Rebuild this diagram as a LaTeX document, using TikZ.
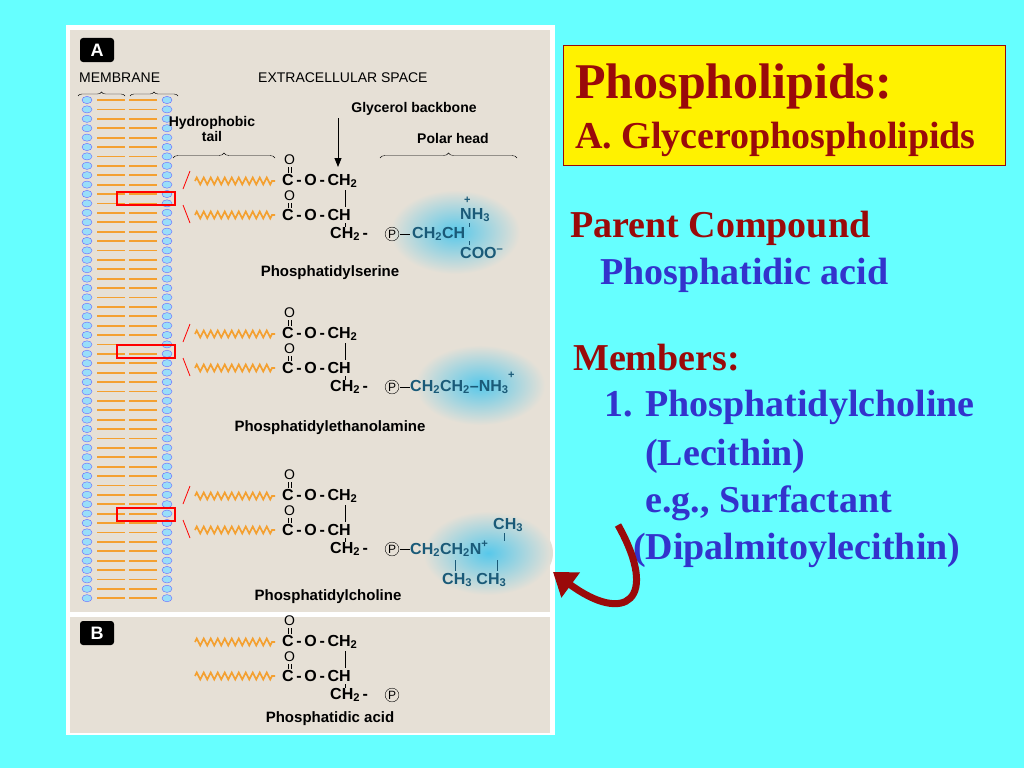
\documentclass[tikz,border=0pt]{standalone}
\usepackage{fontspec}
\setmainfont{Liberation Serif}
\setsansfont{Liberation Sans}
\usetikzlibrary{arrows.meta,decorations.pathmorphing,decorations.pathreplacing}
\definecolor{bgcyan}{HTML}{66FFFF}
\definecolor{paper}{HTML}{E6E0D6}
\definecolor{tailorange}{HTML}{F4A030}
\definecolor{headblue}{HTML}{1A5A78}
\definecolor{glow}{HTML}{58C8EA}
\definecolor{titlered}{HTML}{9A0A0A}
\definecolor{textblue}{HTML}{3333CC}
\tikzset{
  lab/.style={font=\sffamily\bfseries\fontsize{14}{15}\selectfont, inner sep=1pt},
  chem/.style={font=\sffamily\bfseries\fontsize{16}{17}\selectfont, inner sep=0pt, anchor=west},
  headtxt/.style={chem, text=headblue},
  zig/.style={tailorange, line width=1.6pt, decorate, decoration={zigzag, amplitude=3.5pt, segment length=7pt}},
  bigtext/.style={font=\bfseries\fontsize{38}{40}\selectfont, anchor=west, inner sep=0pt},
}
\begin{document}
\begin{tikzpicture}[x=1pt, y=-1pt]
\useasboundingbox (0,0) rectangle (1024,768);
\fill[bgcyan] (0,0) rectangle (1024,768);
% figure panels
\fill[white] (66,25) rectangle (555,735);
\fill[paper] (70,30) rectangle (550,612);
\fill[paper] (70,617) rectangle (550,733);
\node[fill=black, rounded corners=3pt, text=white, font=\sffamily\bfseries\fontsize{18}{18}\selectfont, minimum width=34pt, minimum height=24pt] (boxA) at (97,50) {A};
\node[fill=black, rounded corners=3pt, text=white, font=\sffamily\bfseries\fontsize{18}{18}\selectfont, minimum width=34pt, minimum height=24pt] (boxB) at (97,633) {B};
\node[lab, font=\sffamily\fontsize{14}{15}\selectfont, anchor=west] (membrane) at (78,78) {MEMBRANE};
\node[lab, font=\sffamily\fontsize{14}{15}\selectfont, anchor=west] (extra) at (257,78) {EXTRACELLULAR SPACE};

% membrane bilayer
\foreach \y in {100,109.4,...,606} {
  \draw[tailorange, line width=1.8pt] (97,\y) -- (125,\y) (129,\y) -- (157,\y);
  \filldraw[fill=cyan!40, draw=blue!60, line width=0.4pt] (87,\y) ellipse (5pt and 3.6pt) (167,\y) ellipse (5pt and 3.6pt);
}
\draw[decorate, decoration={brace, amplitude=4pt}] (78,96) -- (125,96);
\draw[decorate, decoration={brace, amplitude=4pt}] (130,96) -- (178,96);

% labels at top
\node[lab] (glycerol) at (414,109) {Glycerol backbone};
\node[lab, align=center] (hydro) at (212,129) {Hydrophobic\\tail};
\node[lab] (polar) at (453,138) {Polar head};
\draw[thick, -{Triangle[length=9pt,width=7pt]}] (338,118) -- (338,167);
\draw[decorate, decoration={brace, amplitude=5pt}] (173,158) -- (275,158);
\draw[decorate, decoration={brace, amplitude=5pt}] (380,158) -- (517,158);

% glow behind polar heads
\shade[inner color=glow, outer color=paper] (455,232) ellipse (65pt and 42pt);
\shade[inner color=glow, outer color=paper] (480,385) ellipse (65pt and 40pt);
\shade[inner color=glow, outer color=paper] (488,553) ellipse (65pt and 42pt);

% red boxes in the membrane
\foreach \y in {192,345,508} \draw[red, line width=1.5pt] (117,\y) rectangle (175,\y+13);

% common glycerol part
\foreach \dy/\slash in {0/1,153/1,315/1,461/0} {
  \begin{scope}[yshift=-\dy]
    \ifnum\slash=1
      \draw[red, thick] (190,171) -- (183,189);
      \draw[red, thick] (183,205) -- (190,223);
    \fi
    \draw[zig] (195,181) -- (275,181);
    \draw[zig] (195,215) -- (275,215);
    \node[chem, font=\sffamily\fontsize{14}{14}\selectfont] (oa) at (284,160) {O};
    \draw (288.5,167) -- (288.5,173) (291.5,167) -- (291.5,173);
    \node[chem] (rowa) at (282,181) {C\,-\,O\,-\,CH\textsubscript{2}};
    \node[chem, font=\sffamily\fontsize{14}{14}\selectfont] (ob) at (284,196) {O};
    \draw (288.5,203) -- (288.5,208) (291.5,203) -- (291.5,208);
    \node[chem] (rowb) at (282,215) {C\,-\,O\,-\,CH};
    \draw (345,190) -- (345,207) (345,223) -- (345,227);
    \node[chem] (rowc) at (330,234) {CH\textsubscript{2}\,-};
    \node[draw, circle, inner sep=0.8pt, font=\sffamily\fontsize{12}{12}\selectfont] (p) at (392,234) {P};
  \end{scope}
}

% phosphatidylserine head
\draw (400,234) -- (410,234);
\node[headtxt] (ser) at (412,234) {CH\textsubscript{2}CH};
\node[headtxt] (nh) at (460,215) {NH\textsubscript{3}};
\node[headtxt, font=\sffamily\bfseries\fontsize{11}{11}\selectfont] at (464,200) {+};
\node[headtxt] (coo) at (460,253) {COO\textsuperscript{--}};
\draw[headblue] (469,223) -- (469,227) (469,241) -- (469,245);
\node[lab, font=\sffamily\bfseries\fontsize{15}{16}\selectfont] (ps) at (330,273) {Phosphatidylserine};

% phosphatidylethanolamine head
\draw (400,387) -- (410,387);
\node[headtxt] (eth) at (410,387) {CH\textsubscript{2}CH\textsubscript{2}--NH\textsubscript{3}};
\node[headtxt, font=\sffamily\bfseries\fontsize{11}{11}\selectfont] at (508,375) {+};
\node[lab, font=\sffamily\bfseries\fontsize{15}{16}\selectfont] (pe) at (330,428) {Phosphatidylethanolamine};

% phosphatidylcholine head
\draw (400,549) -- (410,549);
\node[headtxt] (cho) at (410,549) {CH\textsubscript{2}CH\textsubscript{2}N\textsuperscript{+}};
\node[headtxt] (ch3a) at (493,525) {CH\textsubscript{3}};
\node[headtxt] (ch3b) at (442,580) {CH\textsubscript{3} CH\textsubscript{3}};
\draw[headblue] (504,533) -- (504,541) (455,560) -- (455,571) (497,560) -- (497,571);
\node[lab, font=\sffamily\bfseries\fontsize{15}{16}\selectfont] (pc) at (328,597) {Phosphatidylcholine};

% phosphatidic acid
\node[lab, font=\sffamily\bfseries\fontsize{15}{16}\selectfont] (pa) at (330,719) {Phosphatidic acid};

% right side texts
\node[draw=titlered, fill=yellow, minimum width=442pt, minimum height=120pt, anchor=north west] (title) at (563,45) {};
\node[bigtext, text=titlered, font=\bfseries\fontsize{50}{52}\selectfont] (t1) at (575,86) {Phospholipids:};
\node[bigtext, text=titlered, font=\bfseries\fontsize{38}{40}\selectfont] (t2) at (575,139) {A. Glycerophospholipids};
\node[bigtext, text=titlered] (parent) at (570,228) {Parent Compound};
\node[bigtext, text=textblue] (pacid) at (600,275) {Phosphatidic acid};
\node[bigtext, text=titlered] (members) at (573,358) {Members:};
\node[bigtext, text=textblue] (m1) at (604,407) {1. Phosphatidylcholine};
\node[bigtext, text=textblue] (m2) at (645,456) {(Lecithin)};
\node[bigtext, text=textblue] (m3) at (645,503) {e.g., Surfactant};
\node[bigtext, text=textblue] (m4) at (633,550) {(Dipalmitoylecithin)};

% curved arrow to choline head
\coordinate (arrtip) at (553,572);
\draw[titlered, line width=7pt, -{Triangle[length=22pt,width=30pt]}] (618,525) .. controls (660,600) and (625,625) .. (arrtip);
\end{tikzpicture}
\end{document}
